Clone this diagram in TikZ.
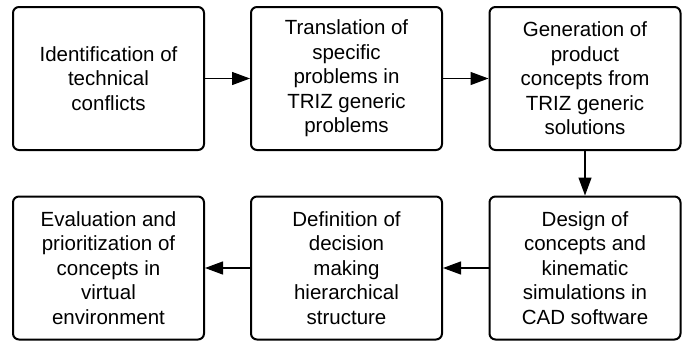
\documentclass[tikz,border=0pt]{standalone}
\usepackage{fontspec}
\setmainfont{Liberation Sans}
\usetikzlibrary{arrows.meta}
\begin{document}
\begin{tikzpicture}[x=1pt,y=-1pt,
  stepbox/.style={draw=black, line width=2pt, rounded corners=6pt, fill=white,
    minimum width=191pt, minimum height=143pt, align=center, inner sep=0pt,
    font=\fontsize{20.5}{24.5}\selectfont},
  conn/.style={line width=1.3pt, -{Triangle[length=18pt,width=13pt]}}]
\useasboundingbox (0,0) rectangle (684,340);
\node[stepbox] (a) at (108.5,78.5) {Identification of\\technical\\conflicts};
\node[stepbox] (b) at (346.5,78.5) {Translation of\\specific\\problems in\\TRIZ generic\\problems};
\node[stepbox] (c) at (585,78.5) {Generation of\\product\\concepts from\\TRIZ generic\\solutions};
\node[stepbox] (d) at (585,268) {Design of\\concepts and\\kinematic\\simulations in\\CAD software};
\node[stepbox] (e) at (346.5,268) {Definition of\\decision\\making\\hierarchical\\structure};
\node[stepbox] (f) at (108.5,268) {Evaluation and\\prioritization of\\concepts in\\virtual\\environment};
\draw[conn] (a) -- (b);
\draw[conn] (b) -- (c);
\draw[conn] (c) -- (d);
\draw[conn] (d) -- (e);
\draw[conn] (e) -- (f);
\end{tikzpicture}
\end{document}
